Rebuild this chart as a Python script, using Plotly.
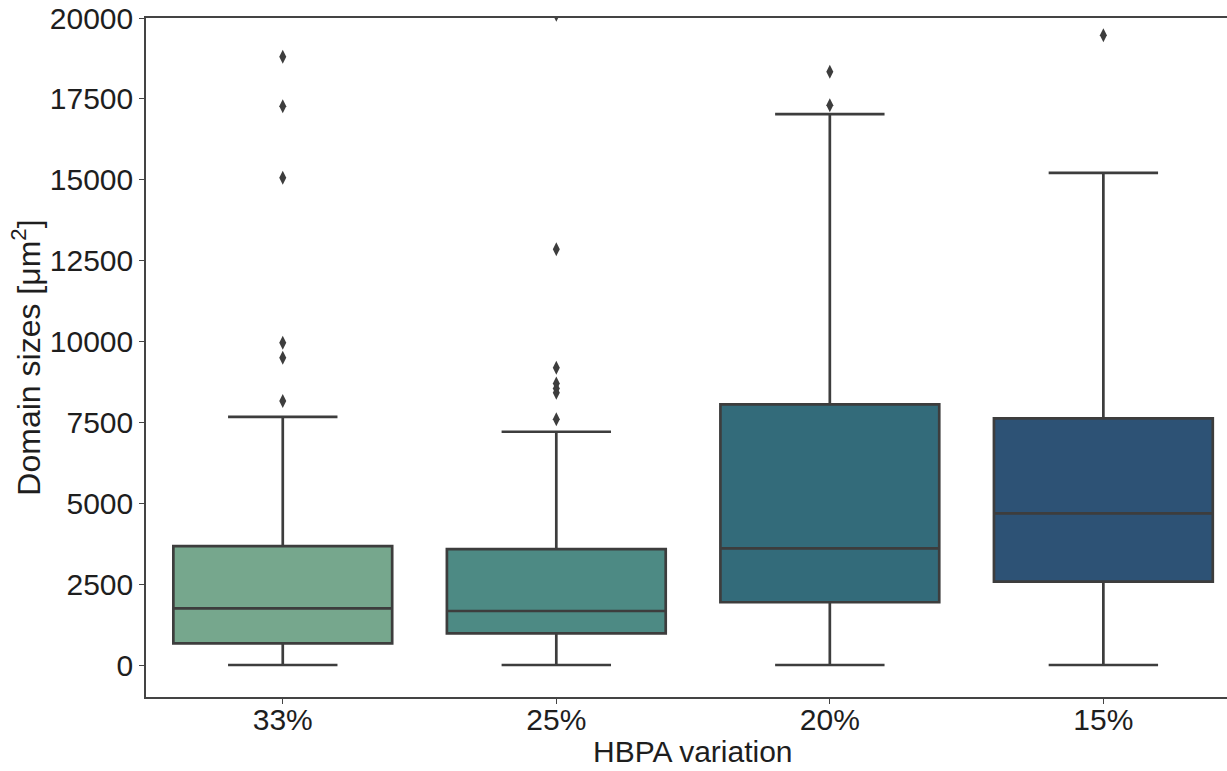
import plotly.graph_objects as go

# ---- data ----
categories = ["33%", "25%", "20%", "15%"]
q1 = [670, 980, 1940, 2575]
median = [1750, 1670, 3605, 4690]
q3 = [3675, 3585, 8055, 7625]
lower_whisker = [0, 0, 0, 0]
upper_whisker = [7670, 7210, 17030, 15215]
outliers = {
    "33%": [18800, 17275, 15060, 9960, 9500, 8160],
    "25%": [20100, 12855, 9190, 8700, 8550, 8415, 7600],
    "20%": [18335, 17305],
    "15%": [19470],
}
box_colors = ["#76a78d", "#4d8a84", "#336b7a", "#2d5275"]
y_ticks = [0, 2500, 5000, 7500, 10000, 12500, 15000, 17500, 20000]

line_col = "#3d3d3d"
font_family = "Liberation Sans, Arial, sans-serif"
txt_col = "#1e1e1e"

fig = go.Figure()
for i, c in enumerate(categories):
    fig.add_trace(go.Box(
        x=[c], q1=[q1[i]], median=[median[i]], q3=[q3[i]],
        lowerfence=[lower_whisker[i]], upperfence=[upper_whisker[i]],
        boxpoints=False, width=0.8, whiskerwidth=0.5,
        fillcolor=box_colors[i], line=dict(color=line_col, width=2.7),
        showlegend=False, hoverinfo="skip",
    ))
    ys = outliers[c]
    fig.add_trace(go.Scatter(
        x=[c] * len(ys), y=ys, mode="markers",
        marker=dict(symbol="diamond-tall", size=10, color=line_col),
        showlegend=False, hoverinfo="skip", cliponaxis=True,
    ))

fig.update_layout(
    width=1227, height=771,
    margin=dict(l=146, r=0, t=18, b=74),
    paper_bgcolor="white", plot_bgcolor="white",
    font=dict(family=font_family, size=30, color=txt_col),
    xaxis=dict(
        type="category", categoryorder="array", categoryarray=categories,
        range=[-0.5, 3.452], showline=True, linecolor="#444444", linewidth=1.5,
        mirror=True, ticks="outside", ticklen=5, tickcolor="#444444",
        showgrid=False, zeroline=False, ticklabelstandoff=-10,
        tickfont=dict(family=font_family, size=30, color=txt_col),
    ),
    yaxis=dict(
        range=[-989, 20000], tickvals=y_ticks, ticktext=[str(v) for v in y_ticks],
        showline=True, linecolor="#444444", linewidth=1.5,
        ticks="outside", ticklen=5, tickcolor="#444444",
        showgrid=False, zeroline=False,
        tickfont=dict(family=font_family, size=30, color=txt_col),
        title=dict(text="Domain sizes [μm<sup>2</sup>]", standoff=0,
                   font=dict(family=font_family, size=32, color=txt_col)),
    ),
    annotations=[dict(
        text="HBPA variation", xref="x", yref="paper", x=1.5, y=0,
        yanchor="middle", xanchor="center", yshift=-54, showarrow=False,
        font=dict(family=font_family, size=30, color=txt_col),
    )],
)

fig.write_html("out.html")
